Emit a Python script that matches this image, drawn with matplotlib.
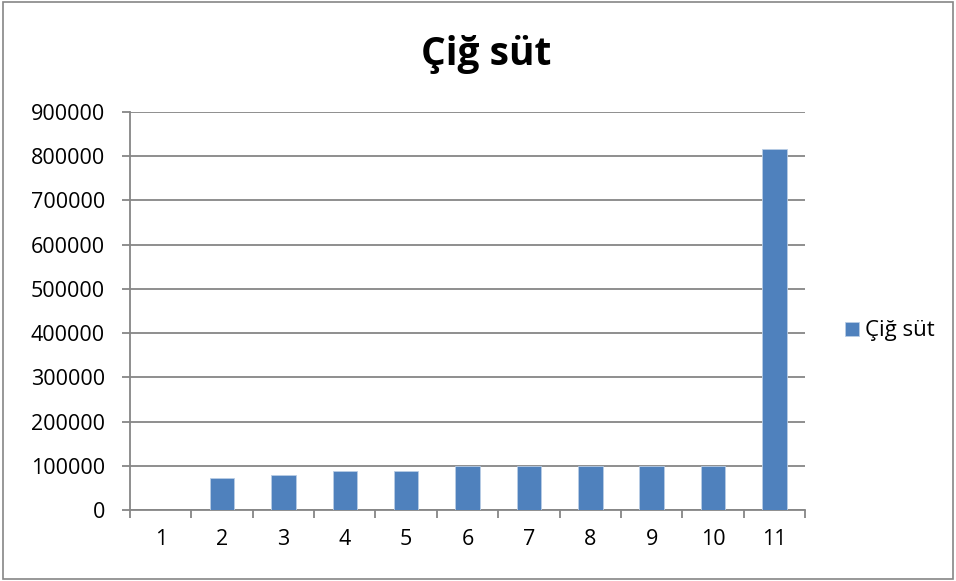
import matplotlib
matplotlib.use("Agg")
import matplotlib.pyplot as plt
from matplotlib.patches import Rectangle

categories = ["1", "2", "3", "4", "5", "6", "7", "8", "9", "10", "11"]
values = [0, 73000, 78500, 87500, 87500, 99500, 99500, 99500, 99500, 99500, 817000]
yticks = [0, 100000, 200000, 300000, 400000, 500000, 600000, 700000, 800000, 900000]

plt.rcParams["font.family"] = ["Open Sans", "DejaVu Sans"]

fig = plt.figure(figsize=(9.56, 5.81), dpi=100)
ax = fig.add_axes([130 / 956, 1 - 510 / 581, 675 / 956, 398 / 581])

x = range(len(categories))
ax.bar(x, values, width=0.4, color="#4F81BD", edgecolor="#B9CDE5", linewidth=0.6,
       zorder=3, label="Çiğ süt")

ax.set_xlim(-0.5, len(categories) - 0.5)
ax.set_ylim(0, 900000)
ax.set_yticks(yticks)
ax.set_yticklabels([str(v) for v in yticks], fontsize=15.5)
ax.set_xticks([i - 0.5 for i in range(len(categories) + 1)], minor=False)
ax.set_xticklabels([])
ax.set_xticks(list(x), minor=True)
ax.set_xticklabels(categories, minor=True, fontsize=15.5)
ax.tick_params(axis="x", which="minor", length=0, pad=14)
ax.tick_params(axis="x", which="major", length=6, color="#868686", width=1.3)
ax.tick_params(axis="y", length=6, color="#868686", width=1.3, direction="out", pad=12)
ax.grid(axis="y", color="#868686", linewidth=1.3, zorder=0)
for s in ["top", "right"]:
    ax.spines[s].set_visible(False)
for s in ["left", "bottom"]:
    ax.spines[s].set_color("#868686")
    ax.spines[s].set_linewidth(1.3)

fig.text(486 / 956, 1 - 54 / 581, "Çiğ süt", ha="center", va="center",
         fontsize=28, fontweight="bold")

ax.legend(loc="center left", bbox_to_anchor=(1.03, 0.45), frameon=False,
          fontsize=16, handlelength=0.6, handleheight=0.6, handletextpad=0.3)

fig.patches.append(Rectangle((0.003, 0.004), 0.994, 0.992, transform=fig.transFigure,
                             fill=False, edgecolor="#868686", linewidth=1.2))

plt.savefig("out.png", dpi=100)
